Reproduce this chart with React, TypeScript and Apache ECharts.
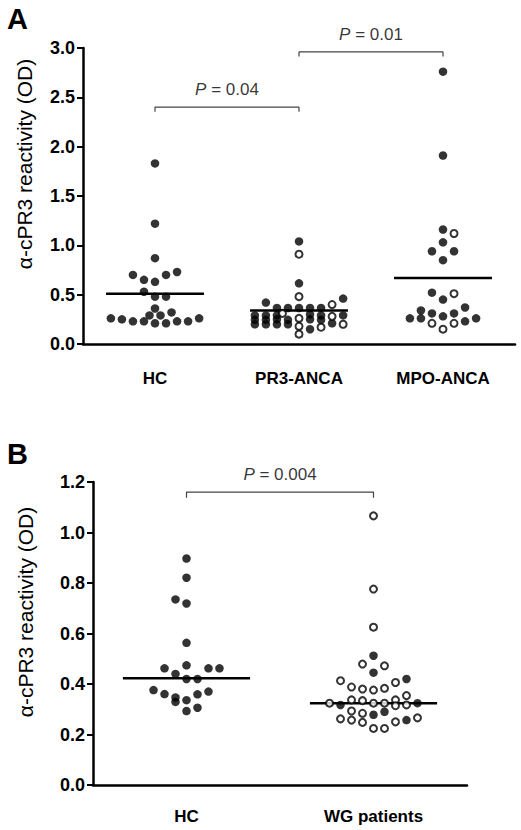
import React, { useEffect, useRef } from "react";
import * as echarts from "echarts";

// ---------- data ----------
const categoriesA = ["HC", "PR3-ANCA", "MPO-ANCA"];
const meansA = [0.51, 0.34, 0.67];
const yTicksA = { min: 0, max: 3, interval: 0.5 };

// HC (panel A) – all filled
const hcAFilledValues = [1.83, 1.22, 0.87, 0.7, 0.73, 0.7, 0.65, 0.63, 0.53, 0.48, 0.48, 0.36, 0.32, 0.29, 0.29, 0.26, 0.25, 0.23, 0.23, 0.21, 0.21, 0.23, 0.23, 0.26];
const hcAFilledJitter = [0, 0, 0, -2, 2, 1, -1, 0, -1, 0, 1, 0, 1.5, -0.5, 0.5, -4, -3, -2, -1, 0, 1, 2, 3, 4];

// PR3-ANCA
const pr3FilledValues = [1.04, 0.615, 0.46, 0.42, 0.365, 0.365, 0.365, 0.365, 0.365, 0.29, 0.29, 0.29, 0.3, 0.29, 0.29, 0.245, 0.245, 0.25, 0.245, 0.25, 0.245, 0.2, 0.2, 0.2, 0.2, 0.15, 0.21];
const pr3FilledJitter = [0, 0, 4, -3, -2, -1, 0, 1, 2, -4, -3, -2, 1, 2, 4, -4, -3, -2, -1, 1, 2, -4, -3, -2, -1, 1, 3];
const pr3OpenValues = [0.91, 0.48, 0.4, 0.31, 0.28, 0.26, 0.18, 0.1, 0.17, 0.2];
const pr3OpenJitter = [0, 0, 3, -1.5, 3, 0, 0, 0, 2, 4];

// MPO-ANCA
const mpoFilledValues = [2.76, 1.91, 1.16, 1.03, 0.94, 0.94, 0.85, 0.52, 0.45, 0.34, 0.37, 0.31, 0.31, 0.26, 0.26, 0.28, 0.23, 0.26];
const mpoFilledJitter = [0, 0, 0, 0, -1, 1, 0, -1, 0, -2, 2, -1, 1, -3, -2, 0, 2, 3];
const mpoOpenValues = [1.12, 0.51, 0.21, 0.21, 0.15];
const mpoOpenJitter = [1, 1, -1, 1, 0];

const categoriesB = ["HC", "WG patients"];
const meansB = [0.423, 0.324];
const yTicksB = { min: 0, max: 1.2, interval: 0.2 };

// HC (panel B) – all filled
const hcBFilledValues = [0.897, 0.821, 0.735, 0.719, 0.563, 0.462, 0.474, 0.462, 0.462, 0.44, 0.42, 0.42, 0.376, 0.36, 0.347, 0.329, 0.336, 0.359, 0.37, 0.306, 0.293];
const hcBFilledJitter = [0, 0, -1, 0, 0, -2, 0, 2, 3, -1, 0, 1, -3, -2, -1, -1, 0, 1, 2, 1, 0];

// WG patients
const wgFilledValues = [0.512, 0.445, 0.42, 0.317, 0.324, 0.29, 0.278, 0.257];
const wgFilledJitter = [0, 0, 3, -3, 4, 1, 0, 3];
const wgOpenValues = [1.066, 0.776, 0.625, 0.479, 0.472, 0.413, 0.406, 0.388, 0.38, 0.376, 0.383, 0.354, 0.337, 0.334, 0.337, 0.324, 0.324, 0.324, 0.314, 0.317, 0.293, 0.284, 0.262, 0.257, 0.248, 0.25, 0.266, 0.224, 0.224];
const wgOpenJitter = [0, 0, 0, -1, 1, -3, 2, -2, -1, 0, 1, 3, -2, -1, 2, -4, 0, 1, 2, 3, -2, -1, -3, -2, -1, 2, 4, 0, 1];

// significance brackets: [fromIndex, toIndex, level, label]
const bracketsA: [number, number, number, string][] = [
  [0, 1, 2.4, "0.04"],
  [1, 2, 2.96, "0.01"],
];
const bracketsB: [number, number, number, string][] = [[0, 1, 1.16, "0.004"]];

const yAxisTitle = "α-cPR3 reactivity (OD)";

// ---------- layout / style ----------
const FONT = "'Liberation Sans', Arial, Helvetica, sans-serif";
const STEP_A = 0.0766; // one dot width in category units (panel A)
const STEP_B = 0.0588; // panel B
const MEAN_HALF = 0.34;

function zip(center: number, values: number[], jitter: number[], step: number) {
  return values.map((v, i) => [center + jitter[i] * step, v]);
}

export default function App() {
  const ref = useRef<HTMLDivElement>(null);

  useEffect(() => {
    document.body.style.margin = "0";
    const chart = echarts.init(ref.current!, null, { renderer: "svg" });

    const filledStyle = { color: "#000" };
    const openStyle = { color: "#fff", borderColor: "#000", borderWidth: 2 };

    const scatter = (data: number[][], open: boolean, xi: number, yi: number) => ({
      type: "scatter",
      xAxisIndex: xi,
      yAxisIndex: yi,
      data,
      symbol: "circle",
      symbolSize: open ? 7 : 8.5,
      itemStyle: open ? openStyle : filledStyle,
      z: 5,
      silent: true,
    });

    const meanLine = (center: number, m: number, xi: number, yi: number) => ({
      type: "line",
      xAxisIndex: xi,
      yAxisIndex: yi,
      data: [
        [center - MEAN_HALF, m],
        [center + MEAN_HALF, m],
      ],
      symbol: "none",
      lineStyle: { color: "#000", width: 2.5 },
      z: 4,
      silent: true,
    });

    const bracketSeries = (b: [number, number, number, string], drop: number, xi: number, yi: number) => [
      {
        type: "line",
        xAxisIndex: xi,
        yAxisIndex: yi,
        data: [
          [b[0], b[2] - drop],
          [b[0], b[2]],
          [b[1], b[2]],
          [b[1], b[2] - drop],
        ],
        symbol: "none",
        lineStyle: { color: "#444", width: 1.2 },
        z: 3,
        silent: true,
      },
      {
        type: "scatter",
        xAxisIndex: xi,
        yAxisIndex: yi,
        data: [[(b[0] + b[1]) / 2, b[2]]],
        symbolSize: 0,
        silent: true,
        label: {
          show: true,
          position: "top",
          distance: 9,
          formatter: "{i|P} = " + b[3],
          color: "#000",
          fontFamily: FONT,
          fontSize: 17,
          rich: { i: { fontStyle: "italic", fontFamily: FONT, fontSize: 17, color: "#000" } },
        },
      },
    ];

    const axisLineStyle = { color: "#000", width: 2.5 };

    const catAxis = (gi: number, cats: string[], margin: number) => ({
      type: "category",
      gridIndex: gi,
      data: cats,
      boundaryGap: true,
      axisLine: { onZero: false, lineStyle: axisLineStyle },
      axisTick: { alignWithLabel: true, length: 7, lineStyle: { width: 2.5, color: "#000" } },
      axisLabel: { color: "#000", fontFamily: FONT, fontWeight: "bold", fontSize: 17, margin },
      splitLine: { show: false },
    });
    const valXAxis = (gi: number, n: number) => ({
      type: "value",
      gridIndex: gi,
      min: -0.5,
      max: n - 0.5,
      show: false,
      axisLine: { onZero: false },
      splitLine: { show: false },
    });
    const yAxis = (gi: number, t: { min: number; max: number; interval: number }) => ({
      type: "value",
      gridIndex: gi,
      min: t.min,
      max: t.max,
      interval: t.interval,
      axisLine: { show: true, onZero: false, lineStyle: axisLineStyle },
      axisTick: { show: true, length: 6, lineStyle: { width: 2, color: "#000" } },
      axisLabel: {
        color: "#000",
        fontFamily: FONT,
        fontWeight: "bold",
        fontSize: 18,
        margin: 8,
        formatter: (v: number) => v.toFixed(1),
      },
      splitLine: { show: false },
    });

    const yTitle = (x: number, y: number) => ({
      type: "text",
      x,
      y,
      rotation: Math.PI / 2,
      style: {
        text: yAxisTitle,
        fontFamily: FONT,
        fontSize: 21,
        fill: "#000",
        textAlign: "center",
        textVerticalAlign: "middle",
      },
    });

    const series: any[] = [];
    // Panel A (grid 0): x axes 0 (category) and 1 (value), y axis 0
    series.push(scatter(zip(0, hcAFilledValues, hcAFilledJitter, STEP_A), false, 1, 0));
    series.push(scatter(zip(1, pr3FilledValues, pr3FilledJitter, STEP_A), false, 1, 0));
    series.push(scatter(zip(1, pr3OpenValues, pr3OpenJitter, STEP_A), true, 1, 0));
    series.push(scatter(zip(2, mpoFilledValues, mpoFilledJitter, STEP_A), false, 1, 0));
    series.push(scatter(zip(2, mpoOpenValues, mpoOpenJitter, STEP_A), true, 1, 0));
    meansA.forEach((m, i) => series.push(meanLine(i, m, 1, 0)));
    bracketsA.forEach((b) => series.push(...bracketSeries(b, 0.045, 1, 0)));

    // Panel B (grid 1): x axes 2 (category) and 3 (value), y axis 1
    series.push(scatter(zip(0, hcBFilledValues, hcBFilledJitter, STEP_B), false, 3, 1));
    series.push(scatter(zip(1, wgFilledValues, wgFilledJitter, STEP_B), false, 3, 1));
    series.push(scatter(zip(1, wgOpenValues, wgOpenJitter, STEP_B), true, 3, 1));
    meansB.forEach((m, i) => series.push(meanLine(i, m, 3, 1)));
    bracketsB.forEach((b) => series.push(...bracketSeries(b, 0.022, 3, 1)));

    chart.setOption({
      animation: false,
      backgroundColor: "#fff",
      grid: [
        { left: 83, top: 48, width: 432, height: 296 },
        { left: 93, top: 482, width: 374, height: 303 },
      ],
      xAxis: [catAxis(0, categoriesA, 26), valXAxis(0, categoriesA.length), catAxis(1, categoriesB, 23), valXAxis(1, categoriesB.length)],
      yAxis: [yAxis(0, yTicksA), yAxis(1, yTicksB)],
      graphic: [
        { type: "text", left: 7, top: 4, style: { text: "A", fontFamily: FONT, fontWeight: "bold", fontSize: 29, fill: "#000" } },
        { type: "text", left: 7, top: 439, style: { text: "B", fontFamily: FONT, fontWeight: "bold", fontSize: 29, fill: "#000" } },
        yTitle(24, 164),
        yTitle(25, 612),
      ],
      series,
    });

    return () => chart.dispose();
  }, []);

  return <div ref={ref} style={{ width: 521, height: 830 }} />;
}
